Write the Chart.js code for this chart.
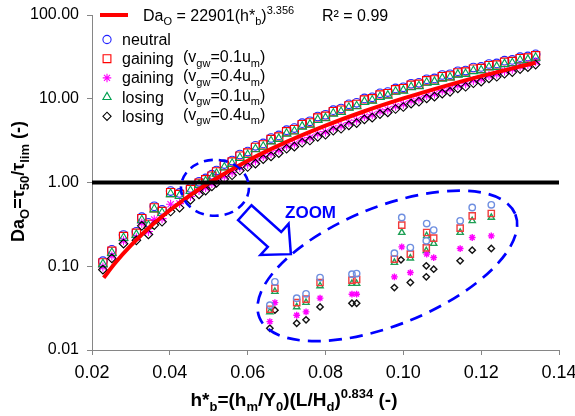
<!DOCTYPE html>
<html>
<head>
<meta charset="utf-8">
<script src="https://cdn.jsdelivr.net/npm/chart.js@4.4.1/dist/chart.umd.min.js"></script>
<style>
  html, body { margin: 0; padding: 0; background: #ffffff; }
  #wrap { width: 575px; height: 416px; }
</style>
</head>
<body>
<div id="wrap"><canvas id="graphDa" width="575" height="416"></canvas></div>
<script>
/* eslint-disable no-unused-vars */

// Valeurs h*_b (axe x), communes aux cinq séries
const A_hb = [
  0.0228, 0.0251, 0.0281, 0.0314, 0.0328, 0.0345, 0.0360, 0.0380, 0.0402, 0.0425, 0.0453, 0.0475, 0.0492, 0.0508,
  0.052, 0.054, 0.056, 0.058, 0.060, 0.062, 0.064, 0.066, 0.068, 0.070,
  0.072, 0.074, 0.076, 0.078, 0.080, 0.082, 0.084, 0.086, 0.088, 0.090,
  0.092, 0.094, 0.096, 0.098, 0.100, 0.102, 0.104, 0.106, 0.108, 0.110,
  0.112, 0.114, 0.116, 0.118, 0.120, 0.122, 0.124, 0.126, 0.128, 0.130,
  0.132, 0.134
];

const A_neutral = [
  0.115, 0.157, 0.236, 0.258, 0.385, 0.330, 0.520, 0.470, 0.790, 0.750, 0.860, 1.02, 1.12, 1.24,
  1.39, 1.66, 1.83, 2.16, 2.34, 2.74, 2.93, 3.40, 3.65, 4.21,
  4.46, 5.11, 5.38, 6.14, 6.44, 7.31, 7.64, 8.58, 8.93, 10.1,
  10.4, 11.6, 12.0, 13.3, 13.7, 15.1, 15.5, 17.1, 17.5, 19.2,
  19.6, 21.3, 21.7, 23.6, 24.0, 26.0, 26.4, 28.5, 29.1, 31.4,
  32.0, 33.9
];

const A_gaining01 = [
  0.110, 0.151, 0.227, 0.248, 0.370, 0.317, 0.499, 0.451, 0.758, 0.720, 0.826, 0.979, 1.08, 1.19,
  1.34, 1.59, 1.76, 2.07, 2.25, 2.63, 2.81, 3.26, 3.50, 4.04,
  4.28, 4.91, 5.16, 5.89, 6.18, 7.02, 7.33, 8.24, 8.57, 9.66,
  10.0, 11.1, 11.5, 12.8, 13.2, 14.5, 14.9, 16.4, 16.8, 18.4,
  18.8, 20.4, 20.9, 22.6, 23.0, 24.9, 25.3, 27.3, 27.9, 30.1,
  30.7, 32.6
];

const A_gaining04 = [
  0.098, 0.133, 0.201, 0.219, 0.327, 0.260, 0.360, 0.370, 0.550, 0.560, 0.680, 0.800, 0.870, 0.970,
  1.07, 1.18, 1.32, 1.51, 1.65, 1.82, 2.05, 2.22, 2.42, 2.73,
  2.89, 3.21, 3.43, 3.79, 4.02, 4.48, 4.73, 5.19, 5.53, 6.12,
  6.42, 7.08, 7.41, 8.14, 8.61, 9.43, 9.94, 10.9, 11.4, 12.5,
  13.1, 14.4, 15.1, 16.5, 17.3, 18.9, 19.7, 21.5, 22.5, 24.4,
  25.7, 27.6
];

const A_losing01 = [
  0.106, 0.144, 0.217, 0.237, 0.354, 0.304, 0.478, 0.432, 0.727, 0.690, 0.791, 0.938, 1.03, 1.14,
  1.27, 1.51, 1.67, 1.96, 2.13, 2.49, 2.67, 3.10, 3.32, 3.83,
  4.06, 4.65, 4.90, 5.58, 5.86, 6.65, 6.95, 7.80, 8.13, 9.16,
  9.51, 10.5, 10.9, 12.1, 12.5, 13.7, 14.1, 15.5, 15.9, 17.4,
  17.9, 19.4, 19.8, 21.4, 21.8, 23.6, 24.0, 25.9, 26.5, 28.6,
  29.1, 30.9
];

const A_losing04 = [
  0.091, 0.124, 0.186, 0.204, 0.304, 0.240, 0.310, 0.340, 0.450, 0.500, 0.620, 0.720, 0.800, 0.900,
  0.99, 1.10, 1.22, 1.39, 1.53, 1.68, 1.90, 2.05, 2.24, 2.53,
  2.68, 2.98, 3.17, 3.51, 3.72, 4.15, 4.38, 4.80, 5.12, 5.67,
  5.95, 6.56, 6.86, 7.54, 7.97, 8.73, 9.21, 10.1, 10.6, 11.5,
  12.1, 13.3, 13.9, 15.3, 16.0, 17.5, 18.3, 19.9, 20.8, 22.6,
  23.8, 25.6
];

// Courbe d'ajustement Da_O = 22901(h*_b)^3.356
const A_fitX = [0.023, 0.026, 0.030, 0.035, 0.040, 0.045, 0.050, 0.060, 0.070, 0.080, 0.090, 0.100, 0.110, 0.120, 0.134];
const A_fitY = [0.0728, 0.110, 0.177, 0.298, 0.466, 0.692, 0.985, 1.82, 3.05, 4.77, 7.09, 10.09, 13.89, 18.61, 26.94];

// Ligne horizontale Da_O = 1
const A_unitX = [0.02, 0.14];
const A_unitY = [1, 1];

// Points de l'encart "ZOOM"
const A_zoomNeutralX = [0.0670, 0.0657, 0.0726, 0.0750, 0.0786, 0.0868, 0.0880, 0.0977, 0.0996, 0.1018, 0.1060, 0.1059, 0.1078, 0.1146, 0.1177, 0.1226];
const A_zoomNeutralY = [0.0651, 0.0343, 0.0416, 0.0468, 0.0733, 0.0804, 0.0818, 0.1434, 0.3818, 0.1673, 0.3237, 0.2012, 0.2700, 0.3485, 0.5028, 0.5415];
const A_zoomGain01X = [0.0670, 0.0657, 0.0726, 0.0750, 0.0786, 0.0868, 0.0880, 0.0977, 0.0996, 0.1018, 0.1060, 0.1059, 0.1078, 0.1146, 0.1177, 0.1226];
const A_zoomGain01Y = [0.0547, 0.0307, 0.0368, 0.0405, 0.0639, 0.0682, 0.0694, 0.1216, 0.3098, 0.1395, 0.2527, 0.1659, 0.2167, 0.2851, 0.4001, 0.4262];
const A_zoomLose01X = [0.0670, 0.0657, 0.0726, 0.0750, 0.0786, 0.0868, 0.0880, 0.0977, 0.0996, 0.1018, 0.1060, 0.1059, 0.1078, 0.1146, 0.1177, 0.1226];
const A_zoomLose01Y = [0.0498, 0.0285, 0.0327, 0.0368, 0.0583, 0.0621, 0.0621, 0.1107, 0.2527, 0.1250, 0.2307, 0.1528, 0.1867, 0.2527, 0.3485, 0.3818];
const A_zoomGain04X = [0.0670, 0.0657, 0.0726, 0.0750, 0.0786, 0.0868, 0.0880, 0.0977, 0.0996, 0.1018, 0.1060, 0.1078, 0.1146, 0.1177, 0.1226];
const A_zoomGain04Y = [0.0368, 0.0218, 0.0260, 0.0285, 0.0416, 0.0464, 0.0464, 0.0747, 0.1705, 0.0841, 0.1395, 0.1270, 0.1627, 0.2203, 0.2307];
const A_zoomLose04X = [0.0670, 0.0657, 0.0726, 0.0750, 0.0786, 0.0868, 0.0880, 0.0977, 0.0994, 0.1018, 0.1059, 0.1059, 0.1078, 0.1146, 0.1177, 0.1226];
const A_zoomLose04Y = [0.0299, 0.0182, 0.0209, 0.0229, 0.0327, 0.0362, 0.0362, 0.0556, 0.1192, 0.0639, 0.1011, 0.0747, 0.0923, 0.1160, 0.1557, 0.1627];

const A_xTicks = [0.02, 0.04, 0.06, 0.08, 0.10, 0.12, 0.14];
const A_yTicks = [0.01, 0.1, 1, 10, 100];

const S_FONT = '"Liberation Sans", Arial, sans-serif';
const S_AXIS = "#868686";
const S_BLUE = "#0000ff";

/**
 * Assemble une liste de points {x, y} à partir de deux tableaux.
 */
function F_toPoints(A_x, A_y) {
  return A_x.map((F_x, I_i) => ({ x: F_x, y: A_y[I_i] }));
}

/**
 * Écrit un texte avec indices / exposants ; renvoie la largeur.
 * A_parts : [[texte, "" | "sub" | "sup"], ...]
 */
function F_drawRich(O_ctx, A_parts, I_x, I_y, I_size, S_weight, B_draw = true) {
  let I_cursor = I_x;
  A_parts.forEach(([S_text, S_mode]) => {
    let I_fs = I_size;
    let I_dy = 0;
    if (S_mode === "sub") { I_fs = Math.round(I_size * 0.7); I_dy = I_size * 0.27; }
    if (S_mode === "sup") { I_fs = Math.round(I_size * 0.68); I_dy = -I_size * 0.44; }
    O_ctx.font = `${S_weight} ${I_fs}px ${S_FONT}`;
    if (B_draw) O_ctx.fillText(S_text, I_cursor, I_y + I_dy);
    I_cursor += O_ctx.measureText(S_text).width;
  });
  return I_cursor - I_x;
}

/**
 * Dessine un marqueur de légende (contour seul).
 */
function F_drawMarker(O_ctx, O_style, I_x, I_y) {
  O_ctx.save();
  O_ctx.lineWidth = O_style.pointBorderWidth;
  O_ctx.fillStyle = "rgba(0,0,0,0)";
  if (Chart.helpers && Chart.helpers.drawPoint) {
    Chart.helpers.drawPoint(O_ctx, {
      pointStyle: O_style.pointStyle,
      radius: O_style.pointRadius,
      borderWidth: O_style.pointBorderWidth,
      rotation: 0,
    }, I_x, I_y);
  }
  O_ctx.restore();
}

/**
 * Fixe l'épaisseur d'un axe et supprime les marges ajoutées pour les étiquettes.
 */
function F_fixAxis(O_scale, I_size) {
  if (O_scale.isHorizontal()) O_scale.height = I_size;
  else O_scale.width = I_size;
  O_scale.paddingLeft = 0;
  O_scale.paddingRight = 0;
  O_scale.paddingTop = 0;
  O_scale.paddingBottom = 0;
}

// Style des séries principales
const A_SERIES = [
  { label: "neutral", extra: null, data: A_neutral, color: "#2222ff", pointStyle: "circle", pointRadius: 4.3 },
  { label: "gaining", extra: "0.1", data: A_gaining01, color: "#ff0000", pointStyle: "rect", pointRadius: 5.8 },
  { label: "gaining", extra: "0.4", data: A_gaining04, color: "#ff00ff", pointStyle: "star", pointRadius: 4.5 },
  { label: "losing", extra: "0.1", data: A_losing01, color: "#00a050", pointStyle: "triangle", pointRadius: 5 },
  { label: "losing", extra: "0.4", data: A_losing04, color: "#000000", pointStyle: "rectRot", pointRadius: 4.3 },
];

// Style des points de l'encart
const A_ZOOM = [
  { x: A_zoomNeutralX, y: A_zoomNeutralY, color: "#6f8fe0", pointStyle: "circle", pointRadius: 3.2 },
  { x: A_zoomGain01X, y: A_zoomGain01Y, color: "#f03c3c", pointStyle: "rect", pointRadius: 4.4 },
  { x: A_zoomGain04X, y: A_zoomGain04Y, color: "#ff00ff", pointStyle: "star", pointRadius: 3.4 },
  { x: A_zoomLose01X, y: A_zoomLose01Y, color: "#1fa055", pointStyle: "triangle", pointRadius: 3.6 },
  { x: A_zoomLose04X, y: A_zoomLose04Y, color: "#111111", pointStyle: "rectRot", pointRadius: 3.2 },
];

// Repères (coordonnées des données) des annotations
const O_ANNOT = {
  circle: { x: 0.0516, y: 0.864, rx: 34, ry: 28 },
  ellipse: { x: 0.0959, y: 0.101, rx: 138, ry: 59, rot: -22 },
  arrow: { x: 0.0711, y: 0.1395, angle: 42 },
  label: { x: 0.0696, y: 0.3756 },
};

const O_annotPlugin = {
  id: "annotations",
  afterDatasetsDraw(O_chart) {
    const O_ctx = O_chart.ctx;
    const O_sx = O_chart.scales.x;
    const O_sy = O_chart.scales.y;
    const F_px = (F_v) => O_sx.getPixelForValue(F_v);
    const F_py = (F_v) => O_sy.getPixelForValue(F_v);

    O_ctx.save();
    O_ctx.strokeStyle = S_BLUE;

    // Cercle pointillé autour de Da_O = 1
    O_ctx.lineWidth = 2.6;
    O_ctx.setLineDash([9, 6]);
    const O_c = O_ANNOT.circle;
    O_ctx.beginPath();
    O_ctx.ellipse(F_px(O_c.x), F_py(O_c.y), O_c.rx, O_c.ry, 0, 0, 2 * Math.PI);
    O_ctx.stroke();

    // Grande ellipse de l'encart
    O_ctx.lineWidth = 2.7;
    O_ctx.setLineDash([13, 8]);
    const O_e = O_ANNOT.ellipse;
    O_ctx.beginPath();
    O_ctx.ellipse(F_px(O_e.x), F_py(O_e.y), O_e.rx, O_e.ry, (O_e.rot * Math.PI) / 180, 0, 2 * Math.PI);
    O_ctx.stroke();

    // Flèche creuse
    O_ctx.setLineDash([]);
    O_ctx.lineWidth = 2.5;
    O_ctx.lineJoin = "miter";
    const O_a = O_ANNOT.arrow;
    O_ctx.translate(F_px(O_a.x), F_py(O_a.y));
    O_ctx.rotate((O_a.angle * Math.PI) / 180);
    const I_len = 62, I_head = 22, I_shaft = 10, I_wing = 21;
    O_ctx.beginPath();
    O_ctx.moveTo(-I_len, -I_shaft);
    O_ctx.lineTo(-I_head, -I_shaft);
    O_ctx.lineTo(-I_head, -I_wing);
    O_ctx.lineTo(0, 0);
    O_ctx.lineTo(-I_head, I_wing);
    O_ctx.lineTo(-I_head, I_shaft);
    O_ctx.lineTo(-I_len, I_shaft);
    O_ctx.closePath();
    O_ctx.fillStyle = "#ffffff";
    O_ctx.fill();
    O_ctx.stroke();
    O_ctx.setTransform(1, 0, 0, 1, 0, 0);

    // Étiquette ZOOM
    O_ctx.fillStyle = S_BLUE;
    O_ctx.font = `bold 17px ${S_FONT}`;
    O_ctx.textBaseline = "alphabetic";
    O_ctx.fillText("ZOOM", F_px(O_ANNOT.label.x), F_py(O_ANNOT.label.y));
    O_ctx.restore();
  },

  afterDraw(O_chart) {
    const O_ctx = O_chart.ctx;
    O_ctx.save();
    O_ctx.fillStyle = "#000000";
    O_ctx.textBaseline = "alphabetic";

    // Légende : courbe d'ajustement
    O_ctx.strokeStyle = "#ff0000";
    O_ctx.lineWidth = 4;
    O_ctx.beginPath();
    O_ctx.moveTo(100, 15);
    O_ctx.lineTo(128, 15);
    O_ctx.stroke();
    F_drawRich(O_ctx, [["Da", ""], ["O", "sub"], [" = 22901(h*", ""], ["b", "sub"], [")", ""], ["3.356", "sup"]], 143, 21, 16, "normal");
    O_ctx.font = `normal 16px ${S_FONT}`;
    O_ctx.fillText("R² = 0.99", 322, 21);

    // Légende : séries
    A_SERIES.forEach((O_s, I_i) => {
      const I_base = 45 + I_i * 19.2;
      O_ctx.strokeStyle = O_s.color;
      F_drawMarker(O_ctx, { pointStyle: O_s.pointStyle, pointRadius: O_s.pointRadius * 0.95, pointBorderWidth: 1.1 }, 107, I_base - 5.5);
      O_ctx.fillStyle = "#000000";
      O_ctx.font = `normal 16px ${S_FONT}`;
      O_ctx.fillText(O_s.label, 122, I_base);
      if (O_s.extra) {
        F_drawRich(O_ctx, [["(v", ""], ["gw", "sub"], ["=" + O_s.extra + "u", ""], ["m", "sub"], [")", ""]], 183, I_base - 2, 16, "normal");
      }
    });

    // Titre de l'axe x
    const A_xTitle = [["h*", ""], ["b", "sub"], ["=(h", ""], ["m", "sub"], ["/Y", ""], ["0", "sub"], [")(L/H", ""], ["d", "sub"], [")", ""], ["0.834", "sup"], [" (-)", ""]];
    const I_wx = F_drawRich(O_ctx, A_xTitle, 0, 0, 19, "bold", false);
    F_drawRich(O_ctx, A_xTitle, 294 - I_wx / 2, 406, 19, "bold");

    // Titre de l'axe y
    const A_yTitle = [["Da", ""], ["O", "sub"], ["=τ", ""], ["50", "sub"], ["/τ", ""], ["lim", "sub"], [" (-)", ""]];
    const I_wy = F_drawRich(O_ctx, A_yTitle, 0, 0, 18, "bold", false);
    O_ctx.translate(24, 181.5);
    O_ctx.rotate(-Math.PI / 2);
    F_drawRich(O_ctx, A_yTitle, -I_wy / 2, 0, 18, "bold");
    O_ctx.restore();
  },
};

class DaChart {
  /**
   * Construit le graphique Da_O en fonction de h*_b.
   * @param {string} S_canvasId - Identifiant du canvas.
   */
  constructor(S_canvasId) {
    this.O_canvas = document.getElementById(S_canvasId);
    this.O_chart = null;
    this.F_init();
  }

  F_buildDatasets() {
    const A_datasets = [];

    // Lignes en premier : dessinées au-dessus des points
    A_datasets.push({
      label: "unit",
      data: F_toPoints(A_unitX, A_unitY),
      showLine: true,
      borderColor: "#000000",
      borderWidth: 4,
      pointRadius: 0,
    });
    A_datasets.push({
      label: "fit",
      data: F_toPoints(A_fitX, A_fitY),
      showLine: true,
      borderColor: "#ff0000",
      borderWidth: 4,
      pointRadius: 0,
      cubicInterpolationMode: "monotone",
    });

    A_ZOOM.forEach((O_z) => {
      A_datasets.push({
        label: "zoom",
        data: F_toPoints(O_z.x, O_z.y),
        showLine: false,
        pointStyle: O_z.pointStyle,
        pointRadius: O_z.pointRadius,
        pointBorderWidth: 1.4,
        borderColor: O_z.color,
        backgroundColor: "rgba(0,0,0,0)",
      });
    });

    A_SERIES.slice().reverse().forEach((O_s) => {
      A_datasets.push({
        label: O_s.label,
        data: F_toPoints(A_hb, O_s.data),
        showLine: false,
        pointStyle: O_s.pointStyle,
        pointRadius: O_s.pointRadius,
        pointBorderWidth: 1.1,
        borderColor: O_s.color,
        backgroundColor: "rgba(0,0,0,0)",
      });
    });
    return A_datasets;
  }

  F_init() {
    this.O_chart = new Chart(this.O_canvas.getContext("2d"), {
      type: "scatter",
      data: { datasets: this.F_buildDatasets() },
      options: {
        responsive: false,
        animation: false,
        devicePixelRatio: 1,
        layout: { padding: { top: 15, right: 16, left: 0, bottom: 0 } },
        plugins: { legend: { display: false }, tooltip: { enabled: false } },
        scales: {
          x: {
            type: "linear",
            min: 0.02,
            max: 0.14,
            afterBuildTicks: (O_scale) => { O_scale.ticks = A_xTicks.map((F_v) => ({ value: F_v })); },
            afterFit: (O_scale) => F_fixAxis(O_scale, 66),
            ticks: {
              callback: (F_v) => Number(F_v).toFixed(2),
              font: { family: S_FONT, size: 18 },
              color: "#000000",
              padding: 7,
              maxRotation: 0,
              autoSkip: false,
            },
            grid: { drawOnChartArea: false, drawTicks: true, tickLength: 5, color: S_AXIS },
            border: { display: true, color: S_AXIS, width: 1 },
          },
          y: {
            type: "logarithmic",
            min: 0.01,
            max: 100,
            afterBuildTicks: (O_scale) => { O_scale.ticks = A_yTicks.map((F_v) => ({ value: F_v })); },
            afterFit: (O_scale) => F_fixAxis(O_scale, 92),
            ticks: {
              callback: (F_v) => Number(F_v).toFixed(2),
              font: { family: S_FONT, size: 16 },
              color: "#000000",
              padding: 8,
              autoSkip: false,
            },
            grid: { drawOnChartArea: false, drawTicks: true, tickLength: 5, color: S_AXIS },
            border: { display: true, color: S_AXIS, width: 1 },
          },
        },
      },
      plugins: [O_annotPlugin],
    });
  }
}

const O_daChart = new DaChart("graphDa");
</script>
</body>
</html>
